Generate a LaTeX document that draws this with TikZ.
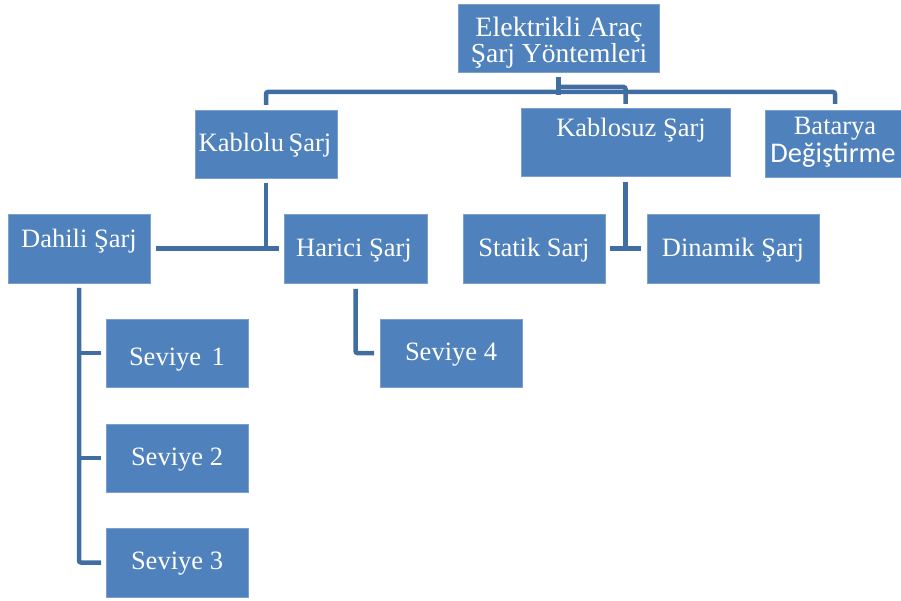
\documentclass[tikz,border=0pt]{standalone}
\usepackage{fontspec}
\setmainfont{Liberation Serif}
\newfontfamily\carlito{Carlito}
\usetikzlibrary{calc}
\definecolor{boxblue}{RGB}{79,129,189}
\definecolor{connblue}{RGB}{65,110,162}
\tikzset{
  box/.style={fill=boxblue, draw=boxblue!75!white, line width=0.6pt, inner sep=0pt, outer sep=0pt},
  lbl/.style={text=white, anchor=base, inner sep=0pt, font=\fontsize{26.5}{30}\selectfont},
  conn/.style={draw=connblue, line width=4.5pt, rounded corners=2pt}
}
\begin{document}
\begin{tikzpicture}[x=1pt,y=-1pt]
\useasboundingbox (0,0) rectangle (901,601);
% boxes
\node[box, minimum width=201pt, minimum height=68pt] (root) at (558.5,38) {};
\node[box, minimum width=142pt, minimum height=68pt] (kablolu) at (266,144) {};
\node[box, minimum width=209pt, minimum height=68pt] (kablosuz) at (625.5,142) {};
\node[box, minimum width=140pt, minimum height=67pt] (batarya) at (835,143.5) {};
\node[box, minimum width=142pt, minimum height=69pt] (dahili) at (79,248.5) {};
\node[box, minimum width=143pt, minimum height=69pt] (harici) at (355.5,248.5) {};
\node[box, minimum width=142pt, minimum height=69pt] (statik) at (534,248.5) {};
\node[box, minimum width=172pt, minimum height=69pt] (dinamik) at (733,248.5) {};
\node[box, minimum width=142pt, minimum height=68pt] (sev1) at (177,353) {};
\node[box, minimum width=142pt, minimum height=68pt] (sev2) at (177,458) {};
\node[box, minimum width=142pt, minimum height=69pt] (sev3) at (177,562.5) {};
\node[box, minimum width=142pt, minimum height=68pt] (sev4) at (451,353) {};
% texts
\node[lbl, font=\fontsize{28}{30}\selectfont] (t-root1) at (559,37) {Elektrikli Araç};
\node[lbl, font=\fontsize{27.5}{30}\selectfont] (t-root2) at (559,62.5) {Şarj Yöntemleri};
\node[lbl] (t-kablolu) at (265,152) {Kablolu\hspace{-2pt} Şarj};
\node[lbl] (t-kablosuz) at (631,137) {Kablosuz Şarj};
\node[lbl] (t-batarya1) at (835,135) {Batarya};
\node[lbl, font=\carlito\fontsize{28.5}{30}\selectfont] (t-batarya2) at (833,163) {Değiştirme};
\node[lbl] (t-dahili) at (79,248) {Dahili Şarj};
\node[lbl] (t-harici) at (354,257) {Harici Şarj};
\node[lbl] (t-statik) at (534,257) {Statik Sarj};
\node[lbl] (t-dinamik) at (733,257) {Dinamik Şarj};
\node[lbl] (t-sev1) at (177,365) {Seviye\hspace{4pt} 1};
\node[lbl] (t-sev2) at (177,465) {Seviye 2};
\node[lbl] (t-sev3) at (177,569) {Seviye 3};
\node[lbl] (t-sev4) at (451,360) {Seviye 4};
% junction coordinates
\coordinate (bar) at (559,92);
\coordinate (bar2) at (559,87);
\coordinate (hbar) at (266,249);
% top level connectors
\draw[conn] ($(kablolu.north)+(0,-5)$) -- (kablolu.north |- bar) -- (batarya.north |- bar) -- ($(batarya.north)+(0,-6)$);
\draw[conn] ($(root.south)+(0,5)$) -- ($(root.south)+(0,23)$);
\draw[conn] (root.south |- bar2) -- (kablosuz.north |- bar2) -- ($(kablosuz.north)+(0,-4)$);
% Kablolu branch
\draw[conn] ($(kablolu.south)+(0,5)$) -- (kablolu.south |- hbar);
\draw[conn] ($(dahili.east)+(6,0)$) -- ($(harici.west)+(-5,0)$);
% Kablosuz branch
\draw[conn] ($(kablosuz.south)+(0,6)$) -- ($(kablosuz.south)+(0,75)$);
\draw[conn] ($(statik.east)+(5,0)$) -- ($(dinamik.west)+(-6,0)$);
% Dahili branch
\draw[conn] ($(dahili.south)+(0,5)$) |- ($(sev3.west)+(-5,0)$);
\draw[conn] (dahili.south |- sev1.west) -- ($(sev1.west)+(-5,0)$);
\draw[conn] (dahili.south |- sev2.west) -- ($(sev2.west)+(-5,0)$);
% Harici branch
\draw[conn] ($(harici.south)+(0,6)$) |- ($(sev4.west)+(-6,0)$);
\end{tikzpicture}
\end{document}
